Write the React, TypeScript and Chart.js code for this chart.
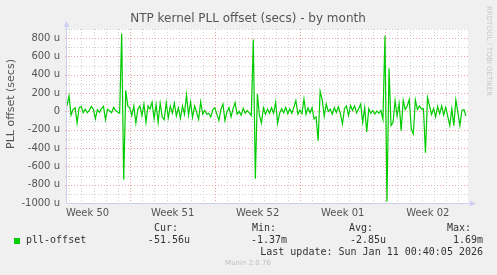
import React, { useEffect, useRef } from "react";
import { Chart, registerables } from "chart.js";

Chart.register(...registerables);

const TITLE = "NTP kernel PLL offset (secs) - by month";
const Y_TITLE = "PLL offset (secs)";
const SIDE_TEXT = "RRDTOOL / TOBI OETIKER";
const FOOTER = "Munin 2.0.76";
const LAST_UPDATE = "Last update: Sun Jan 11 00:40:05 2026";
const SERIES_NAME = "pll-offset";
const LEGEND_HEADS = ["Cur:", "Min:", "Avg:", "Max:"];
const LEGEND_VALUES = ["-51.56u", "-1.37m", "-2.85u", "1.69m"];

const WEEK_LABELS = ["Week 50", "Week 51", "Week 52", "Week 01", "Week 02"];
const WEEK_LABEL_DAYS = [1.69, 8.69, 15.69, 22.69, 29.69];
const DAY_LINE_DAYS = [
  0.19, 1.19, 2.19, 3.19, 4.19, 5.19, 6.19, 7.19, 8.19, 9.19, 10.19, 11.19,
  12.19, 13.19, 14.19, 15.19, 16.19, 17.19, 18.19, 19.19, 20.19, 21.19, 22.19,
  23.19, 24.19, 25.19, 26.19, 27.19, 28.19, 29.19, 30.19, 31.19, 32.19,
];
const WEEK_LINE_DAYS = [5.19, 12.19, 19.19, 26.19];
const Y_TICKS = [-1000, -800, -600, -400, -200, 0, 200, 400, 600, 800];
const Y_MIN = -1000;
const Y_MAX = 900;
const X_MAX_DAYS = 33;
const SAMPLE_STEP_DAYS = 1 / 6;

// PLL offset in microseconds, one sample every 4 hours
const PLL_OFFSET_US = [
  60, 170, -40, 20, 40, -125, 40, 55, -15, 25,
  -15, 10, 55, 25, -80, 20, -10, 30, 55, -90,
  25, 5, -15, 45, 10, -5, -20, 850, -745, 230,
  60, 40, -45, 60, -125, 25, 60, -45, 80, -120,
  60, 25, 100, -80, 75, -120, 90, -60, -90, 95,
  -70, 60, -20, 90, -50, 40, -75, 60, -30, 180,
  -40, 100, -65, 60, -10, -85, 105, -30, 10, -30,
  -20, -60, 20, 40, -30, -100, 25, 80, -100, 0,
  40, -60, 30, 95, -30, 0, -40, 35, -20, 10,
  -15, -45, 785, -735, 190, -40, -125, 40, -30, 25,
  -20, 40, -20, 100, -130, -20, 30, -15, 45, -25,
  30, -20, 45, 120, -30, 15, -25, 135, -30, 40,
  -15, 40, -80, -60, -320, 220, 130, -50, 80, 0,
  25, -30, 40, -10, 50, -25, -135, 30, 60, -45,
  65, 10, 60, -15, 30, 80, -120, 40, -225, 30,
  -20, 10, -30, 5, -20, 10, -85, 825, -985, 470,
  -155, -120, 115, -50, 85, -210, 120, 20, 60, 130,
  -190, -245, 125, 20, 60, 25, 30, -450, 150, 60,
  -35, 30, -60, 55, -25, 60, -40, 45, -55, -155,
  30, -155, 125, -10, -155, 10, 20, -50,
];

const SANS = "'DejaVu Sans', sans-serif";
const MONO = "'DejaVu Sans Mono', monospace";
const MAJOR_GRID = "rgba(238,140,140,0.8)";
const MINOR_GRID = "rgba(195,195,195,0.8)";

const muninPlugin = {
  id: "muninDecor",
  beforeDraw(chart: any) {
    const { ctx, chartArea: a } = chart;
    ctx.save();
    ctx.fillStyle = "#f0f0f0";
    ctx.fillRect(0, 0, chart.width, chart.height);
    ctx.fillStyle = "#ffffff";
    ctx.fillRect(a.left, a.top, a.right - a.left, a.bottom - a.top);
    ctx.restore();
  },
  beforeDatasetsDraw(chart: any) {
    const { ctx, chartArea: a } = chart;
    const xs = chart.scales.x;
    const ys = chart.scales.y;
    ctx.save();
    ctx.lineWidth = 1;
    ctx.setLineDash([1, 2]);
    for (let v = Y_MIN + 100; v <= Y_MAX; v += 100) {
      const y = Math.round(ys.getPixelForValue(v)) + 0.5;
      ctx.strokeStyle = v % 200 === 0 ? MAJOR_GRID : MINOR_GRID;
      ctx.beginPath();
      ctx.moveTo(a.left - 2, y);
      ctx.lineTo(a.right, y);
      ctx.stroke();
    }
    DAY_LINE_DAYS.forEach((d) => {
      const x = Math.round(xs.getPixelForValue(d)) + 0.5;
      const major = WEEK_LINE_DAYS.indexOf(d) >= 0;
      ctx.strokeStyle = major ? MAJOR_GRID : MINOR_GRID;
      ctx.beginPath();
      ctx.moveTo(x, a.top);
      ctx.lineTo(x, a.bottom + 2);
      ctx.stroke();
    });
    ctx.restore();
  },
  afterDatasetsDraw(chart: any) {
    const { ctx, chartArea: a } = chart;
    ctx.save();
    ctx.strokeStyle = "#cfcff2";
    ctx.fillStyle = "#cfcff2";
    ctx.lineWidth = 1;
    const lx = Math.round(a.left) - 0.5;
    const by = Math.round(a.bottom) + 0.5;
    ctx.beginPath();
    ctx.moveTo(lx, by);
    ctx.lineTo(lx, a.top - 3);
    ctx.moveTo(lx, by);
    ctx.lineTo(a.right + 3, by);
    ctx.stroke();
    ctx.beginPath();
    ctx.moveTo(lx - 3, a.top - 2);
    ctx.lineTo(lx + 3, a.top - 2);
    ctx.lineTo(lx, a.top - 8);
    ctx.closePath();
    ctx.fill();
    ctx.beginPath();
    ctx.moveTo(a.right + 2, by - 3);
    ctx.lineTo(a.right + 2, by + 3);
    ctx.lineTo(a.right + 8, by);
    ctx.closePath();
    ctx.fill();
    ctx.restore();
  },
  afterDraw(chart: any) {
    const { ctx } = chart;
    ctx.save();
    ctx.fillStyle = "#555555";
    ctx.font = `12px ${SANS}`;
    ctx.textAlign = "center";
    ctx.textBaseline = "middle";
    ctx.fillText(TITLE, 248, 19);
    ctx.save();
    ctx.translate(11, 104);
    ctx.rotate(-Math.PI / 2);
    ctx.font = `11px ${SANS}`;
    ctx.fillText(Y_TITLE, 0, 0);
    ctx.restore();
    ctx.save();
    ctx.translate(489, 6);
    ctx.rotate(Math.PI / 2);
    ctx.textAlign = "left";
    ctx.fillStyle = "#c8c8c8";
    ctx.font = `7px ${SANS}`;
    ctx.fillText(SIDE_TEXT, 0, 0);
    ctx.restore();
    ctx.fillStyle = "#00cc00";
    ctx.fillRect(14, 238, 6, 6);
    ctx.fillStyle = "#333333";
    ctx.font = `10px ${MONO}`;
    ctx.textAlign = "left";
    ctx.fillText(SERIES_NAME, 26, 240.5);
    const headX = [154, 252, 349, 447];
    LEGEND_HEADS.forEach((h, i) => ctx.fillText(h, headX[i], 228.5));
    const valRight = [190, 287, 386, 483];
    ctx.textAlign = "right";
    LEGEND_VALUES.forEach((v, i) => ctx.fillText(v, valRight[i], 240.5));
    ctx.fillText(LAST_UPDATE, 483, 252.5);
    ctx.textAlign = "center";
    ctx.fillStyle = "#c0c0c0";
    ctx.font = `7px ${SANS}`;
    ctx.fillText(FOOTER, 248, 263);
    ctx.restore();
  },
};

export default function App() {
  const ref = useRef<HTMLCanvasElement | null>(null);
  useEffect(() => {
    if (!ref.current) return;
    const points = PLL_OFFSET_US.map((v, i) => ({ x: i * SAMPLE_STEP_DAYS, y: v }));
    const chart = new Chart(ref.current, {
      type: "line",
      data: {
        datasets: [
          {
            label: SERIES_NAME,
            data: points,
            borderColor: "#00cc00",
            borderWidth: 1.2,
            pointRadius: 0,
            tension: 0,
            fill: false,
          },
        ],
      },
      options: {
        animation: false,
        responsive: false,
        events: [],
        layout: { padding: { left: 0, top: 29, right: 29, bottom: 0 } },
        plugins: { legend: { display: false }, tooltip: { enabled: false }, title: { display: false } },
        scales: {
          x: {
            type: "linear",
            min: 0,
            max: X_MAX_DAYS,
            grid: { display: false, drawTicks: false },
            border: { display: false },
            afterFit: (s: any) => {
              s.height = 72;
            },
            afterBuildTicks: (s: any) => {
              s.ticks = WEEK_LABEL_DAYS.map((v) => ({ value: v }));
            },
            ticks: {
              autoSkip: false,
              maxRotation: 0,
              padding: 4,
              color: "#555555",
              font: { family: SANS, size: 10 },
              callback: (v: any) => {
                const i = WEEK_LABEL_DAYS.indexOf(Number(v));
                return i >= 0 ? WEEK_LABELS[i] : "";
              },
            },
          },
          y: {
            type: "linear",
            min: Y_MIN,
            max: Y_MAX,
            grid: { display: false, drawTicks: false },
            border: { display: false },
            afterFit: (s: any) => {
              s.width = 67;
            },
            afterBuildTicks: (s: any) => {
              s.ticks = Y_TICKS.map((v) => ({ value: v }));
            },
            ticks: {
              autoSkip: false,
              padding: 7,
              color: "#555555",
              font: { family: SANS, size: 10 },
              callback: (v: any) => (Number(v) === 0 ? "0" : `${v} u`),
            },
          },
        },
      },
      plugins: [muninPlugin],
    });
    return () => chart.destroy();
  }, []);
  return (
    <div style={{ position: "fixed", left: 0, top: 0, width: 497, height: 275, background: "#f0f0f0" }}>
      <canvas ref={ref} width={497} height={275} style={{ display: "block", width: 497, height: 275 }} />
    </div>
  );
}
